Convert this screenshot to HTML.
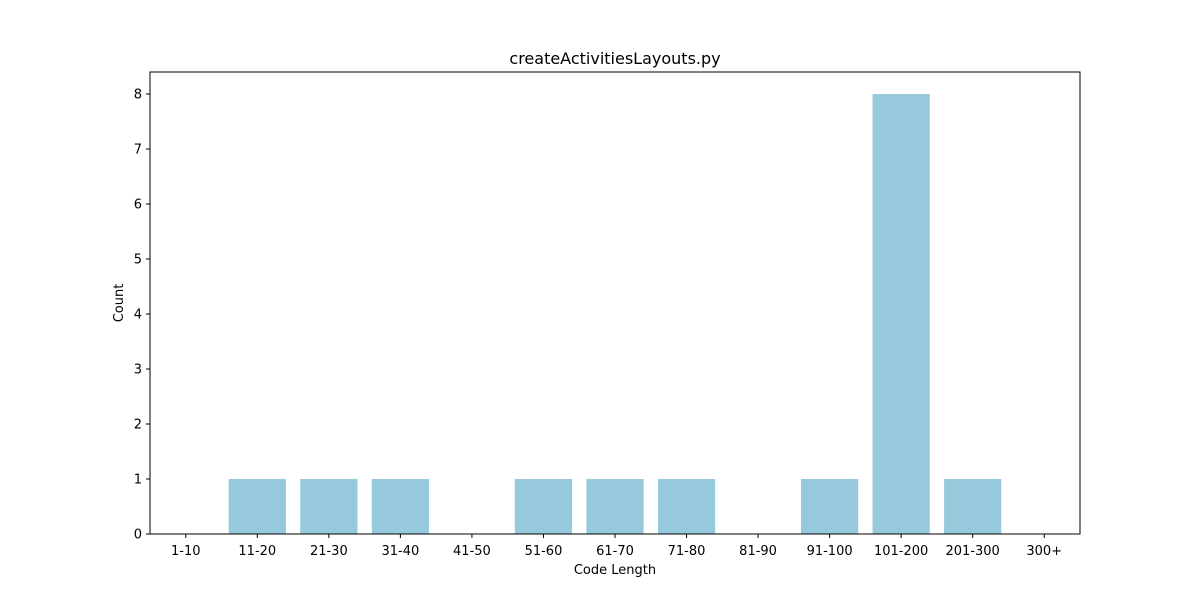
<!DOCTYPE html>
<html><head><meta charset="utf-8"><style>
body{margin:0;background:#fff;}
svg{display:block;font-family:"DejaVu Sans","Liberation Sans",sans-serif;}
</style></head><body>
<svg id="chart" width="1200" height="600"></svg>
<script>
const categories=["1-10","11-20","21-30","31-40","41-50","51-60","61-70","71-80","81-90","91-100","101-200","201-300","300+"];
const counts=[0,1,1,1,0,1,1,1,0,1,8,1,0];
const yTicks=[0,1,2,3,4,5,6,7,8];
const NS="http://www.w3.org/2000/svg";
const svg=document.getElementById('chart');
const L=150,R=1080,T=72,B=534,yMax=8.4;
const xs=i=>L+(i+0.5)*(R-L)/categories.length;
const ys=v=>B-v*(B-T)/yMax;
const bw=0.8*(R-L)/categories.length;
function mk(tag,attrs,txt){const e=document.createElementNS(NS,tag);for(const k in attrs)e.setAttribute(k,attrs[k]);if(txt!==undefined)e.textContent=txt;svg.appendChild(e);return e;}
counts.forEach((v,i)=>{
 const r=mk('rect',{x:xs(i)-bw/2,y:ys(v),width:bw,height:B-ys(v),fill:'#96c9dc'});
 
 
});
const frame=mk('rect',{x:L,y:T,width:R-L,height:B-T,fill:'none',stroke:'#000','stroke-width':1});


categories.forEach((c,i)=>{
 mk('line',{x1:xs(i),x2:xs(i),y1:B,y2:B+4,stroke:'#000'});
 const t=mk('text',{x:xs(i),y:B+21,'text-anchor':'middle','font-size':13},c);
 
 
});
yTicks.forEach(v=>{
 mk('line',{x1:L-4,x2:L,y1:ys(v),y2:ys(v),stroke:'#000'});
 const t=mk('text',{x:L-8,y:ys(v)+4.5,'text-anchor':'end','font-size':13},v);
 
 
});
const xt=mk('text',{x:(L+R)/2,y:574,'text-anchor':'middle','font-size':13},'Code Length');


const yt=mk('text',{x:0,y:0,'text-anchor':'middle','font-size':13,transform:'translate(123,303) rotate(-90)'},'Count');


const tt=mk('text',{x:(L+R)/2,y:64,'text-anchor':'middle','font-size':16},'createActivitiesLayouts.py');


</script>
</body></html>
